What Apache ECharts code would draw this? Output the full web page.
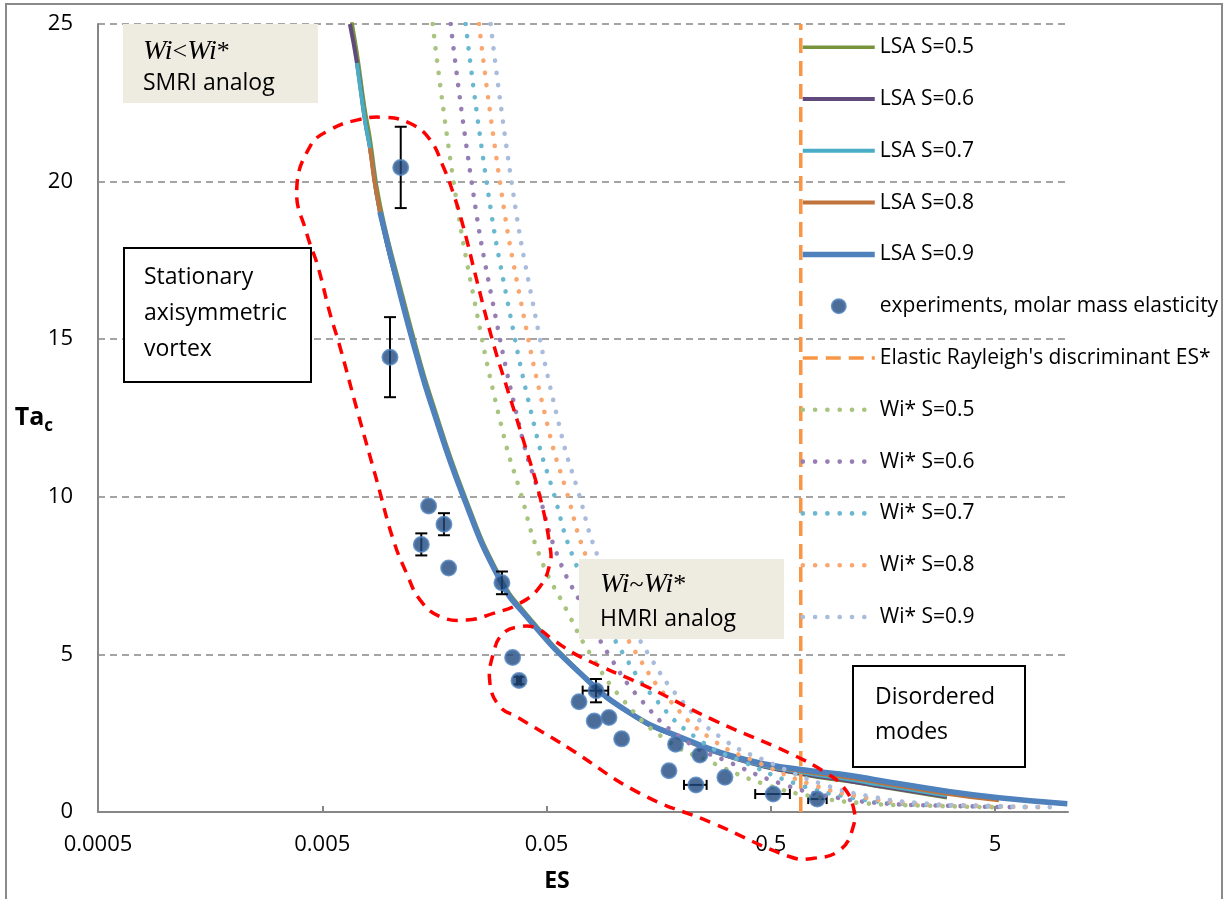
<!DOCTYPE html>
<html><head><meta charset="utf-8">
<script src="https://cdn.jsdelivr.net/npm/echarts@6/dist/echarts.min.js"></script>
<style>html,body{margin:0;padding:0;background:#fff}#c{width:1229px;height:899px}</style>
</head><body><div id="c"></div>
<script>
// ---------- data ----------
const ES_MIN = 0.0005;
const ES_MAX = 10.57;
const xTickLabels = ['0.0005', '0.005', '0.05', '0.5', '5'];
const yTickValues = [0, 5, 10, 15, 20, 25];

// LSA curves (critical Taylor number vs ES), shared ES grid
const lsaES   = [0.00664, 0.00714, 0.00775, 0.00816, 0.00904, 0.0113, 0.01336, 0.0151, 0.0213, 0.031, 0.0407, 0.0704, 0.1178, 0.197, 0.391, 0.68, 1.15, 1.53, 3.05, 5.2, 10.5];
const lsaS05  = [25.4, 24.1, 22.3, 21.4, 19.3, 16.5, 14.55, 13.27, 10.15, 7.47, 6.28, 4.45, 3.15, 2.36, 1.6, 1.2, 0.95, 0.8, 0.45, null, null];
const lsaS06  = [25, 23.76, 21.95, 21.07, 19.04, 16.24, 14.34, 13.07, 10.0, 7.36, 6.2, 4.41, 3.13, 2.35, 1.58, 1.22, 0.97, 0.82, 0.48, null, null];
const lsaS07  = [null, 23.76, 21.95, 21.07, 19.04, 16.24, 14.34, 13.07, 10.0, 7.36, 6.2, 4.41, 3.13, 2.36, 1.6, 1.26, 1.02, 0.87, 0.52, null, null];
const lsaS08  = [null, null, null, 21.07, 19.04, 16.24, 14.34, 13.07, 10.0, 7.36, 6.2, 4.41, 3.13, 2.36, 1.62, 1.3, 1.08, 0.93, 0.58, 0.37, null];
const lsaS09  = [null, null, null, null, 19.04, 16.24, 14.34, 13.07, 10.0, 7.36, 6.2, 4.41, 3.14, 2.38, 1.65, 1.35, 1.15, 1.0, 0.66, 0.45, 0.26];

// Wi* curves
const wiTa   = [25, 20.05, 16.4, 12.0, 10.2, 8.1, 6.4, 5.03, 3.55, 2.28, 1.55, 0.86, 0.49, 0.28, 0.2, 0.15];
const wiES05 = [0.01553, 0.0192, 0.02357, 0.03206, 0.03804, 0.04674, 0.06147, 0.0781, 0.1099, 0.1716, 0.2768, 0.479, 0.773, 1.291, 2.5, 5.25];
const wiES06 = [0.01868, 0.0231, 0.02835, 0.03857, 0.04576, 0.05623, 0.07395, 0.09395, 0.1322, 0.2064, 0.333, 0.5762, 0.93, 1.553, 3.0, 6.3];
const wiES07 = [0.02179, 0.02694, 0.03307, 0.04498, 0.05337, 0.06558, 0.08624, 0.1096, 0.1542, 0.2408, 0.3884, 0.672, 1.085, 1.811, 3.5, 7.4];
const wiES08 = [0.02499, 0.03089, 0.03792, 0.05158, 0.06121, 0.0752, 0.0989, 0.1257, 0.1768, 0.2761, 0.4454, 0.7707, 1.244, 2.077, 4.0, 8.4];
const wiES09 = [0.02816, 0.03481, 0.04273, 0.05812, 0.06897, 0.08474, 0.1114, 0.1416, 0.1992, 0.3111, 0.5018, 0.8684, 1.401, 2.341, 4.5, 9.5];

// Elastic Rayleigh's discriminant
const esStar = 0.68;

// experiments
const expES     = [0.01119, 0.01002, 0.0149, 0.01744, 0.01382, 0.0183, 0.03163, 0.0353, 0.0377, 0.0698, 0.08305, 0.0816, 0.0949, 0.1081, 0.188, 0.2415, 0.1757, 0.2318, 0.3121, 0.5124, 0.805];
const expTa     = [20.45, 14.43, 9.71, 9.13, 8.49, 7.74, 7.27, 4.9, 4.17, 3.5, 3.85, 2.89, 3.0, 2.32, 2.15, 1.81, 1.31, 0.86, 1.1, 0.57, 0.41];
const expTaErr  = [1.29, 1.27, 0, 0.35, 0.35, 0, 0.36, 0, 0.12, 0, 0.37, 0, 0, 0, 0, 0, 0, 0, 0, 0, 0];
const expESLow  = [null, null, null, null, null, null, null, null, 0.0369, null, 0.07244, null, null, null, null, null, null, 0.205, null, 0.426, 0.734];
const expESHigh = [null, null, null, null, null, null, null, null, 0.0385, null, 0.0942, null, null, null, null, null, null, 0.2587, null, 0.608, 0.887];

// annotation outlines (ES, Ta), closed loops
const smriES = [0.003845, 0.004406, 0.00541, 0.007117, 0.009354, 0.0123, 0.01511, 0.01732, 0.01919, 0.02127, 0.0244, 0.02894, 0.0332, 0.03937, 0.04673, 0.0518, 0.0518, 0.04673, 0.03805, 0.02894, 0.02202, 0.01674, 0.01364, 0.01189, 0.01037, 0.00874, 0.007215, 0.005995, 0.00541, 0.004784, 0.00426];
const smriTa = [19.73, 21.11, 21.64, 21.95, 22.04, 21.85, 21.33, 20.47, 19.63, 18.57, 16.88, 14.87, 13.49, 11.8, 10.0, 8.42, 7.89, 7.15, 6.62, 6.3, 6.09, 6.2, 6.73, 7.57, 8.63, 10.53, 12.65, 14.76, 15.82, 17.3, 18.36];
const hmriES = [0.06147, 0.1304, 0.2768, 0.6083, 0.7727, 1.016, 1.165, 1.165, 1.051, 0.887, 0.6083, 0.2768, 0.1397, 0.07046, 0.05356, 0.04517, 0.03805, 0.03206, 0.02894, 0.02797, 0.03099, 0.03679];
const hmriTa = [2.07, 0.59, -0.36, -1.42, -1.47, -1.21, -0.47, 0.17, 0.8, 1.23, 1.86, 2.92, 3.98, 4.93, 5.46, 5.83, 5.88, 5.67, 5.03, 4.08, 3.34, 3.02];

// ---------- helpers ----------
function lx(es) { return Math.log10(es / ES_MIN); }
function pairs(xs, ys) {
  const out = [];
  xs.forEach((x, i) => { if (ys[i] != null) out.push([lx(x), ys[i]]); });
  return out;
}
const FONT = 'Open Sans';

const lsaColors = ['#77933c', '#604a7b', '#4bacc6', '#c0733a', '#4f81bd'];
const lsaWidths = [3.5, 4, 4, 4, 5.5];
const lsaSets = [lsaS05, lsaS06, lsaS07, lsaS08, lsaS09];
const sLabels = ['0.5', '0.6', '0.7', '0.8', '0.9'];
const wiColors = ['#a9c47f', '#967db4', '#6ab8d0', '#f9a66f', '#a9bcdb'];
const wiSets = [wiES05, wiES06, wiES07, wiES08, wiES09];

const series = [];
lsaSets.forEach((ta, k) => {
  series.push({
    name: 'LSA S=' + sLabels[k], type: 'line', smooth: true, symbol: 'none',
    lineStyle: { color: lsaColors[k], width: lsaWidths[k] }, itemStyle: { color: lsaColors[k] },
    data: pairs(lsaES, ta), z: 2
  });
});
series.push({
  name: 'errbars', type: 'custom', z: 3, clip: false,
  encode: { x: 0, y: 1 },
  renderItem: function (params, api) {
    const x = api.value(0), y = api.value(1), e = api.value(2), lo = api.value(3), hi = api.value(4);
    const st = { stroke: '#000', lineWidth: 2 };
    const ch = [];
    if (e > 0) {
      const a = api.coord([x, y + e]), b = api.coord([x, y - e]);
      ch.push({ type: 'line', shape: { x1: a[0], y1: a[1], x2: b[0], y2: b[1] }, style: st });
      ch.push({ type: 'line', shape: { x1: a[0] - 6, y1: a[1], x2: a[0] + 6, y2: a[1] }, style: st });
      ch.push({ type: 'line', shape: { x1: b[0] - 6, y1: b[1], x2: b[0] + 6, y2: b[1] }, style: st });
    }
    if (hi > lo) {
      const a = api.coord([lo, y]), b = api.coord([hi, y]);
      ch.push({ type: 'line', shape: { x1: a[0], y1: a[1], x2: b[0], y2: b[1] }, style: st });
      ch.push({ type: 'line', shape: { x1: a[0], y1: a[1] - 5, x2: a[0], y2: a[1] + 5 }, style: st });
      ch.push({ type: 'line', shape: { x1: b[0], y1: b[1] - 5, x2: b[0], y2: b[1] + 5 }, style: st });
    }
    return { type: 'group', children: ch };
  },
  data: expES.map((es, i) => [lx(es), expTa[i], expTaErr[i],
    expESLow[i] != null ? lx(expESLow[i]) : lx(es),
    expESHigh[i] != null ? lx(expESHigh[i]) : lx(es)])
});
series.push({
  name: 'experiments, molar mass elasticity', type: 'scatter', symbol: 'circle', symbolSize: 15, z: 4,
  itemStyle: { color: '#1f497d', borderColor: '#4f81bd', borderWidth: 2 },
  data: pairs(expES, expTa)
});
series.push({
  name: "Elastic Rayleigh's discriminant ES*", type: 'line', symbol: 'none', z: 3,
  lineStyle: { color: '#f79646', width: 3.5, type: [15, 8] }, itemStyle: { color: '#f79646' },
  data: [[lx(esStar), 0], [lx(esStar), 25]]
});
wiSets.forEach((es, k) => {
  series.push({
    name: 'Wi* S=' + sLabels[k], type: 'line', smooth: true, symbol: 'none', z: 3,
    lineStyle: { color: wiColors[k], width: 4.6, type: [0.1, 12.2], cap: 'round' },
    itemStyle: { color: wiColors[k] },
    data: pairs(es, wiTa)
  });
});

const lineItem = n => ({ name: n, itemStyle: { opacity: 0 } });
const legendData = sLabels.map(s => lineItem('LSA S=' + s))
  .concat([{ name: 'experiments, molar mass elasticity' }, lineItem("Elastic Rayleigh's discriminant ES*")])
  .concat(sLabels.map(s => lineItem('Wi* S=' + s)));

const boxFont = '23px "Open Sans"';
const staticGraphics = [
  { id: 'frame', type: 'rect', z: 100, shape: { x: 6, y: 4, width: 1216, height: 900 }, style: { fill: 'none', stroke: '#8a8a8a', lineWidth: 2 } },
  { id: 'b1', type: 'rect', z: 100, shape: { x: 123, y: 24, width: 195, height: 79 }, style: { fill: '#eeece1' } },
  { id: 't1a', type: 'text', z: 101, x: 143, y: 52, style: { text: '{i|Wi}{n|<}{i|Wi}{n|*}', verticalAlign: 'middle', rich: {
    i: { fontFamily: 'Liberation Serif', fontStyle: 'italic', fontSize: 28, fill: '#000' },
    n: { fontFamily: 'Liberation Serif', fontSize: 26, fill: '#000' } } } },
  { id: 't1b', type: 'text', z: 101, x: 143, y: 83, style: { text: 'SMRI analog', font: boxFont, fill: '#000', verticalAlign: 'middle' } },
  { id: 'b2', type: 'rect', z: 100, shape: { x: 124, y: 248, width: 187, height: 134 }, style: { fill: '#fff', stroke: '#000', lineWidth: 2 } },
  { id: 't2a', type: 'text', z: 101, x: 144, y: 277, style: { text: 'Stationary', font: boxFont, fill: '#000', verticalAlign: 'middle' } },
  { id: 't2b', type: 'text', z: 101, x: 144, y: 313, style: { text: 'axisymmetric', font: boxFont, fill: '#000', verticalAlign: 'middle' } },
  { id: 't2c', type: 'text', z: 101, x: 144, y: 349, style: { text: 'vortex', font: boxFont, fill: '#000', verticalAlign: 'middle' } },
  { id: 'b3', type: 'rect', z: 100, shape: { x: 579, y: 559, width: 205, height: 80 }, style: { fill: '#eeece1' } },
  { id: 't3a', type: 'text', z: 101, x: 600, y: 585, style: { text: '{i|Wi}{n|~}{i|Wi}{n|*}', verticalAlign: 'middle', rich: {
    i: { fontFamily: 'Liberation Serif', fontStyle: 'italic', fontSize: 28, fill: '#000' },
    n: { fontFamily: 'Liberation Serif', fontSize: 26, fill: '#000' } } } },
  { id: 't3b', type: 'text', z: 101, x: 600, y: 619, style: { text: 'HMRI analog', font: boxFont, fill: '#000', verticalAlign: 'middle' } },
  { id: 'b4', type: 'rect', z: 100, shape: { x: 853, y: 666, width: 172, height: 101 }, style: { fill: '#fff', stroke: '#000', lineWidth: 2 } },
  { id: 't4a', type: 'text', z: 101, x: 875, y: 697, style: { text: 'Disordered', font: boxFont, fill: '#000', verticalAlign: 'middle' } },
  { id: 't4b', type: 'text', z: 101, x: 875, y: 732, style: { text: 'modes', font: boxFont, fill: '#000', verticalAlign: 'middle' } }
];

const chart = echarts.init(document.getElementById('c'));
chart.setOption({
  animation: false,
  backgroundColor: '#fff',
  grid: { left: 98, top: 24, right: 161, bottom: 87 },
  legend: {
    orient: 'vertical', left: 795, top: 31.7, itemWidth: 72, itemHeight: 14, itemGap: 30.8,
    selectedMode: false, data: legendData,
    lineStyle: { width: 'inherit' },
    textStyle: { fontFamily: FONT, fontSize: 21, color: '#000', lineHeight: 20 }
  },
  xAxis: {
    type: 'value', min: 0, max: lx(ES_MAX), interval: 1,
    axisLine: { show: true, lineStyle: { color: '#868686', width: 2 } },
    axisTick: { show: true, inside: true, length: 6, customValues: [0, 1, 2, 3, 4], lineStyle: { color: '#868686', width: 2 } },
    axisLabel: { customValues: [0, 1, 2, 3, 4], formatter: v => xTickLabels[Math.round(v)], margin: 22, fontFamily: FONT, fontSize: 22, color: '#000' },
    splitLine: { show: false },
    name: 'ES', nameLocation: 'middle', nameGap: 58,
    nameTextStyle: { fontFamily: FONT, fontSize: 23, fontWeight: 'bold', color: '#000', padding: [0, 52, 0, 0] }
  },
  yAxis: {
    type: 'value', min: yTickValues[0], max: yTickValues[yTickValues.length - 1], interval: 5,
    axisLine: { show: true, lineStyle: { color: '#868686', width: 2 } },
    axisTick: { show: false },
    axisLabel: { margin: 25, fontFamily: FONT, fontSize: 22, color: '#000' },
    splitLine: { show: true, lineStyle: { color: '#868686', width: 1.5, type: [7, 5] } },
    name: '{b|Ta}{s|c}', nameLocation: 'middle', nameRotate: 0, nameGap: 45, nameMoveOverlap: false,
    nameTextStyle: {
      align: 'right', verticalAlign: 'middle',
      rich: {
        b: { fontFamily: FONT, fontSize: 25, fontWeight: 'bold', color: '#000' },
        s: { fontFamily: FONT, fontSize: 17, fontWeight: 'bold', color: '#000', padding: [16, 0, 0, 0] }
      }
    }
  },
  series: series,
  graphic: staticGraphics
});

// red dashed region outlines, placed through the chart's own coordinate conversion
function outline(id, esArr, taArr) {
  const pts = esArr.map((e, i) => chart.convertToPixel({ gridIndex: 0 }, [lx(e), taArr[i]]));
  return { id: id, type: 'polygon', z: 60, shape: { points: pts, smooth: 0.45 },
    style: { fill: 'none', stroke: '#ff0000', lineWidth: 3.5, lineDash: [11, 8] } };
}
chart.setOption({ graphic: staticGraphics.concat([outline('smri', smriES, smriTa), outline('hmri', hmriES, hmriTa)]) });
</script>
</body></html>
